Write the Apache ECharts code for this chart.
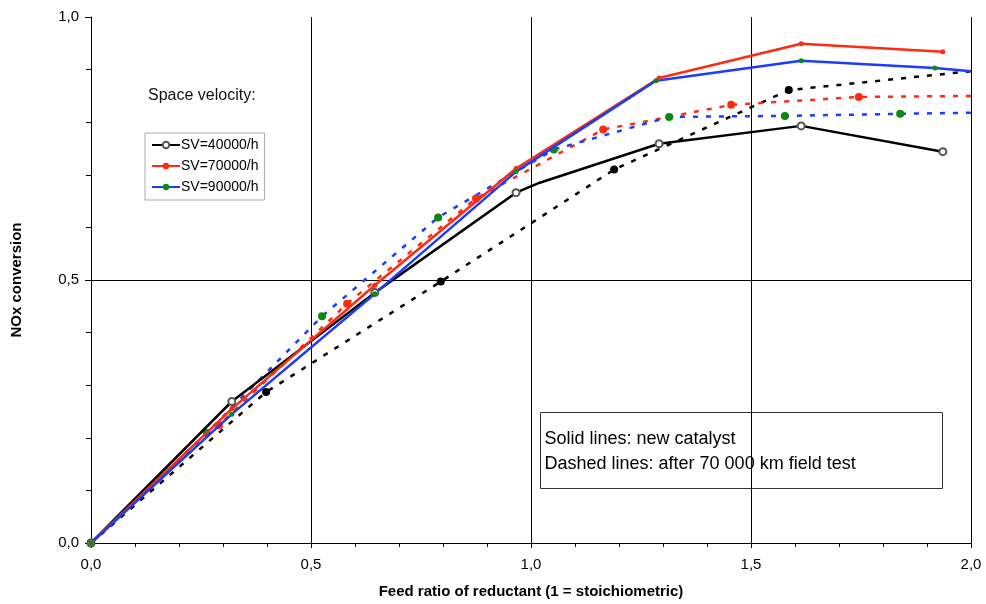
<!DOCTYPE html>
<html>
<head>
<meta charset="utf-8">
<title>NOx conversion</title>
<script src="https://cdn.jsdelivr.net/npm/echarts@6/dist/echarts.min.js"></script>
<style>
    html, body { margin: 0; padding: 0; background: #fff; }
    #main { width: 986px; height: 604px; }
</style>
</head>
<body>
<div id="main"></div>
<script>

// 新催化剂 (实线)
var sv40X = [0, 0.32, 0.645, 0.966, 1.02, 1.291, 1.614, 1.936];
var sv40Y = [0, 0.269, 0.476, 0.666, 0.685, 0.759, 0.793, 0.744];
var sv40Plain = [4];

var sv70X = [0, 0.32, 0.645, 0.966, 1.291, 1.614, 1.936];
var sv70Y = [0, 0.255, 0.49, 0.712, 0.884, 0.949, 0.934];

var sv90X = [0, 0.32, 0.645, 0.966, 1.284, 1.614, 1.918, 2.0];
var sv90Y = [0, 0.245, 0.474, 0.706, 0.879, 0.917, 0.903, 0.897];
var sv90Plain = [7];

// 70 000 km 后 (虚线)
var old40X = [0, 0.398, 0.795, 1.189, 1.586, 2.0];
var old40Y = [0, 0.287, 0.497, 0.710, 0.861, 0.897];
var old40Plain = [5];

var old70X = [0, 0.291, 0.582, 0.875, 1.164, 1.455, 1.745, 2.0];
var old70Y = [0, 0.224, 0.455, 0.655, 0.786, 0.833, 0.848, 0.850];
var old70Plain = [7];

var old90X = [0, 0.263, 0.525, 0.789, 1.052, 1.314, 1.577, 1.839, 2.0];
var old90Y = [0, 0.209, 0.431, 0.619, 0.748, 0.810, 0.812, 0.816, 0.818];
var old90Plain = [8];

var legendNames = ['SV=40000/h', 'SV=70000/h', 'SV=90000/h'];

var FONT = '"Liberation Sans", Arial, sans-serif';

function pts(xs, ys, plain) {
    plain = plain || [];
    return xs.map(function (x, i) {
        var p = { value: [x, ys[i]] };
        if (plain.indexOf(i) >= 0) p.symbol = 'none';
        return p;
    });
}

function comma(v) {
    return v.toFixed(1).replace('.', ',');
}

function dashed(name, xs, ys, plain, lineColor, dotColor) {
    return {
        name: name,
        type: 'line',
        data: pts(xs, ys, plain),
        symbol: 'circle',
        symbolSize: 8,
        z: 2,
        lineStyle: { color: lineColor, width: 2.5, type: [5, 8] },
        itemStyle: { color: dotColor },
        emphasis: { disabled: true }
    };
}

var chart = echarts.init(document.getElementById('main'));

chart.setOption({
    animation: false,
    backgroundColor: '#fff',
    textStyle: { fontFamily: FONT },
    grid: {
        left: 91,
        right: 15,
        top: 17,
        bottom: 60
    },
    legend: {
        data: legendNames,
        orient: 'vertical',
        left: 145,
        top: 133,
        itemWidth: 28,
        itemHeight: 8,
        itemGap: 7,
        padding: [5, 6, 6, 6],
        borderColor: '#aaa',
        borderWidth: 1,
        textStyle: { fontFamily: FONT, fontSize: 14, color: '#000', padding: [0, 0, 0, -4] }
    },
    xAxis: {
        type: 'value',
        min: 0,
        max: 2,
        interval: 0.5,
        name: 'Feed ratio of reductant (1 = stoichiometric)',
        nameLocation: 'middle',
        nameGap: 41,
        nameTextStyle: { fontFamily: FONT, fontSize: 15, fontWeight: 'bold', color: '#000' },
        axisLine: { show: true, lineStyle: { color: '#000', width: 1 } },
        axisTick: { show: true, length: 5, lineStyle: { color: '#000' } },
        minorTick: { show: true, splitNumber: 5, length: 4, lineStyle: { color: '#000' } },
        axisLabel: { formatter: comma, fontFamily: FONT, fontSize: 15, color: '#000', margin: 14 },
        splitLine: { show: true, showMinLine: false, lineStyle: { color: '#000', width: 1 } }
    },
    yAxis: {
        type: 'value',
        min: 0,
        max: 1,
        interval: 0.5,
        name: 'NOx conversion',
        nameLocation: 'middle',
        nameGap: 67,
        nameTextStyle: { fontFamily: FONT, fontSize: 15, fontWeight: 'bold', color: '#000' },
        axisLine: { show: true, lineStyle: { color: '#000', width: 1 } },
        axisTick: { show: true, length: 6, lineStyle: { color: '#000' } },
        minorTick: { show: true, splitNumber: 5, length: 5, lineStyle: { color: '#000' } },
        axisLabel: { formatter: comma, fontFamily: FONT, fontSize: 15, color: '#000', margin: 12 },
        splitLine: { show: true, showMinLine: false, showMaxLine: false, lineStyle: { color: '#000', width: 1 } }
    },
    graphic: [
        {
            type: 'text',
            left: 148,
            top: 88,
            style: { text: 'Space velocity:', font: '16px ' + FONT, fill: '#111' }
        },
        {
            type: 'group',
            left: 540,
            top: 412,
            children: [
                {
                    type: 'rect',
                    shape: { x: 0, y: 0, width: 402, height: 76 },
                    style: { fill: '#fff', stroke: '#333', lineWidth: 1 }
                },
                {
                    type: 'text',
                    x: 4,
                    y: 14,
                    style: {
                        text: 'Solid lines: new catalyst\nDashed lines: after 70 000 km field test',
                        font: '18px ' + FONT,
                        lineHeight: 25,
                        fill: '#000'
                    }
                }
            ]
        }
    ],
    series: [
        dashed('old40', old40X, old40Y, old40Plain, '#000', '#000'),
        dashed('old70', old70X, old70Y, old70Plain, '#ff2a10', '#ff2a10'),
        dashed('old90', old90X, old90Y, old90Plain, '#1a3cff', '#0a8a0a'),
        {
            name: legendNames[0],
            type: 'line',
            data: pts(sv40X, sv40Y, sv40Plain),
            symbol: 'emptyCircle',
            symbolSize: 7,
            z: 3,
            lineStyle: { color: '#000', width: 2.5 },
            itemStyle: { color: '#555', borderWidth: 1 },
            emphasis: { disabled: true }
        },
        {
            name: legendNames[1],
            type: 'line',
            data: pts(sv70X, sv70Y),
            symbol: 'circle',
            symbolSize: 5,
            z: 3,
            lineStyle: { color: '#ff2a10', width: 2.5 },
            itemStyle: { color: '#ff2a10' },
            emphasis: { disabled: true }
        },
        {
            name: legendNames[2],
            type: 'line',
            data: pts(sv90X, sv90Y, sv90Plain),
            symbol: 'circle',
            symbolSize: 5,
            z: 3,
            lineStyle: { color: '#1a3cff', width: 2.5 },
            itemStyle: { color: '#0a8a0a' },
            emphasis: { disabled: true }
        }
    ]
});
</script>
</body>
</html>
